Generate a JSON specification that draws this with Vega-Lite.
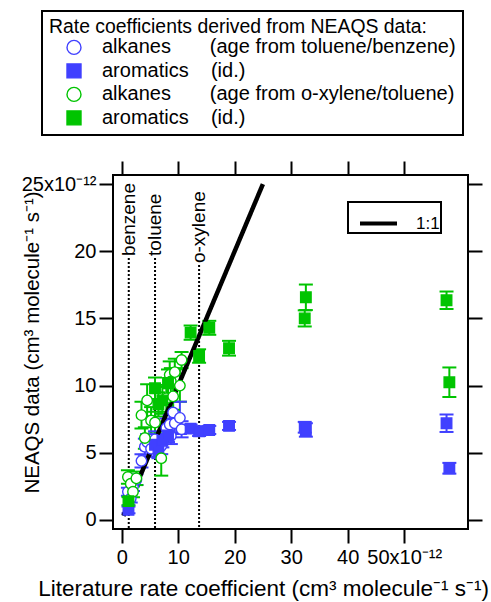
{
  "$schema": "https://vega.github.io/schema/vega-lite/v6.json",
  "width": 355,
  "height": 354,
  "autosize": {"type": "none"},
  "padding": {"left": 113, "top": 175, "right": 23, "bottom": 73},
  "background": "white",
  "config": {
    "font": "Liberation Sans",
    "view": {"stroke": "black", "strokeWidth": 2},
    "axis": {
      "domain": false, "grid": false,
      "tickColor": "black", "tickWidth": 2, "tickSize": 14,
      "labelColor": "black", "titleColor": "black",
      "labelFont": "Liberation Sans", "titleFont": "Liberation Sans",
      "titleFontWeight": "normal", "labelFontSize": 20, "titleFontSize": 21,
      "labelOverlap": false, "labelFlush": false
    },
    "legend": {"strokeWidth": 2}
  },
  "datasets": {
    "pts": [
      {"series": "tb_alk", "x": 1.1, "y": 2.1, "lo": 1.8, "hi": 2.4},
      {"series": "tb_alk", "x": 1.6, "y": 1.6, "lo": 1.3, "hi": 1.9},
      {"series": "tb_alk", "x": 2.0, "y": 2.5, "lo": 2.15, "hi": 2.85},
      {"series": "tb_alk", "x": 2.6, "y": 3.0, "lo": 2.6, "hi": 3.4},
      {"series": "tb_alk", "x": 3.5, "y": 4.4, "lo": 3.9, "hi": 4.9},
      {"series": "tb_alk", "x": 4.1, "y": 5.45, "lo": 4.85, "hi": 6.05},
      {"series": "tb_alk", "x": 4.5, "y": 5.8, "lo": 5.2, "hi": 6.4},
      {"series": "tb_alk", "x": 5.2, "y": 5.3, "lo": 4.7, "hi": 5.9},
      {"series": "tb_alk", "x": 5.9, "y": 6.0, "lo": 5.4, "hi": 6.6},
      {"series": "tb_alk", "x": 7.0, "y": 5.5, "lo": 4.9, "hi": 6.1},
      {"series": "tb_alk", "x": 7.9, "y": 6.85, "lo": 6.15, "hi": 7.55},
      {"series": "tb_alk", "x": 8.5, "y": 7.1, "lo": 6.4, "hi": 7.8},
      {"series": "tb_alk", "x": 8.7, "y": 6.25, "lo": 5.65, "hi": 6.85},
      {"series": "tb_alk", "x": 9.1, "y": 8.0, "lo": 7.2, "hi": 8.8},
      {"series": "tb_alk", "x": 9.4, "y": 7.2, "lo": 6.5, "hi": 7.9},
      {"series": "tb_alk", "x": 10.3, "y": 7.6, "lo": 6.4, "hi": 8.8},
      {"series": "tb_alk", "x": 10.6, "y": 6.75, "lo": 6.15, "hi": 7.35},
      {"series": "tb_aro", "x": 1.2, "y": 0.75, "lo": 0.5, "hi": 1.0},
      {"series": "tb_aro", "x": 5.9, "y": 5.6, "lo": 5.2, "hi": 6.0},
      {"series": "tb_aro", "x": 6.5, "y": 5.1, "lo": 4.6, "hi": 5.6},
      {"series": "tb_aro", "x": 7.2, "y": 5.9, "lo": 5.4, "hi": 6.4},
      {"series": "tb_aro", "x": 8.2, "y": 6.3, "lo": 5.8, "hi": 6.8},
      {"series": "tb_aro", "x": 12.2, "y": 6.8, "lo": 6.5, "hi": 7.1},
      {"series": "tb_aro", "x": 13.7, "y": 6.6, "lo": 6.25, "hi": 6.95},
      {"series": "tb_aro", "x": 15.5, "y": 6.7, "lo": 6.4, "hi": 7.0},
      {"series": "tb_aro", "x": 19.0, "y": 7.0, "lo": 6.7, "hi": 7.3},
      {"series": "tb_aro", "x": 32.4, "y": 6.9, "lo": 6.5, "hi": 7.3},
      {"series": "tb_aro", "x": 32.6, "y": 6.7, "lo": 6.2, "hi": 7.2},
      {"series": "tb_aro", "x": 57.5, "y": 7.2, "lo": 6.55, "hi": 7.85},
      {"series": "tb_aro", "x": 58.0, "y": 3.85, "lo": 3.45, "hi": 4.25},
      {"series": "xt_alk", "x": 1.1, "y": 3.2, "lo": 2.7, "hi": 3.7},
      {"series": "xt_alk", "x": 1.6, "y": 2.7, "lo": 2.2, "hi": 3.2},
      {"series": "xt_alk", "x": 2.0, "y": 2.1, "lo": 1.7, "hi": 2.5},
      {"series": "xt_alk", "x": 2.6, "y": 3.1, "lo": 2.6, "hi": 3.6},
      {"series": "xt_alk", "x": 3.5, "y": 7.8, "lo": 6.8, "hi": 8.8},
      {"series": "xt_alk", "x": 4.1, "y": 6.1, "lo": 5.3, "hi": 6.9},
      {"series": "xt_alk", "x": 4.5, "y": 8.9, "lo": 7.7, "hi": 10.1},
      {"series": "xt_alk", "x": 5.2, "y": 7.4, "lo": 6.4, "hi": 8.4},
      {"series": "xt_alk", "x": 5.9, "y": 7.25, "lo": 6.45, "hi": 8.05},
      {"series": "xt_alk", "x": 7.0, "y": 4.6, "lo": 3.3, "hi": 5.9},
      {"series": "xt_alk", "x": 7.9, "y": 9.05, "lo": 8.05, "hi": 10.05},
      {"series": "xt_alk", "x": 8.5, "y": 10.8, "lo": 9.8, "hi": 11.8},
      {"series": "xt_alk", "x": 8.7, "y": 10.3, "lo": 9.3, "hi": 11.3},
      {"series": "xt_alk", "x": 9.1, "y": 9.2, "lo": 8.2, "hi": 10.2},
      {"series": "xt_alk", "x": 9.4, "y": 11.0, "lo": 10.0, "hi": 12.0},
      {"series": "xt_alk", "x": 10.3, "y": 10.0, "lo": 8.8, "hi": 11.2},
      {"series": "xt_alk", "x": 10.6, "y": 11.9, "lo": 11.3, "hi": 12.5},
      {"series": "xt_aro", "x": 1.2, "y": 1.4, "lo": 1.1, "hi": 1.7},
      {"series": "xt_aro", "x": 5.9, "y": 9.8, "lo": 9.0, "hi": 10.6},
      {"series": "xt_aro", "x": 6.5, "y": 8.6, "lo": 7.7, "hi": 9.5},
      {"series": "xt_aro", "x": 7.2, "y": 8.9, "lo": 7.9, "hi": 9.9},
      {"series": "xt_aro", "x": 8.2, "y": 10.2, "lo": 9.2, "hi": 11.2},
      {"series": "xt_aro", "x": 12.2, "y": 13.94, "lo": 13.41, "hi": 14.47},
      {"series": "xt_aro", "x": 13.7, "y": 12.2, "lo": 11.7, "hi": 12.7},
      {"series": "xt_aro", "x": 15.5, "y": 14.3, "lo": 13.78, "hi": 14.82},
      {"series": "xt_aro", "x": 19.0, "y": 12.78, "lo": 12.23, "hi": 13.33},
      {"series": "xt_aro", "x": 32.4, "y": 15.0, "lo": 14.4, "hi": 15.6},
      {"series": "xt_aro", "x": 32.6, "y": 16.57, "lo": 15.62, "hi": 17.52},
      {"series": "xt_aro", "x": 57.5, "y": 16.35, "lo": 15.7, "hi": 17.0},
      {"series": "xt_aro", "x": 58.0, "y": 10.25, "lo": 9.15, "hi": 11.35}
    ],
    "refs": [
      {"name": "benzene", "k": 1.25, "top": 19.5},
      {"name": "toluene", "k": 5.9, "top": 19.5},
      {"name": "o-xylene", "k": 13.7, "top": 18.97}
    ],
    "oneone": [
      {"k": 0.3, "v": 0.3, "lbl": "1:1"},
      {"k": 25, "v": 25, "lbl": "1:1"}
    ]
  },
  "layer": [
    {
      "data": {"name": "refs"},
      "mark": {"type": "rule", "strokeDash": [2, 2], "strokeWidth": 2, "color": "black"},
      "encoding": {
        "x": {
          "field": "k", "type": "quantitative",
          "scale": {"domain": [-1.54, 61.3], "nice": false, "zero": false},
          "axis": {
            "orient": "bottom", "values": [0, 10, 20, 30, 40, 50],
            "labelExpr": "datum.value == 50 ? '50x10⁻¹²' : datum.label",
            "labelPadding": 4,
            "title": "Literature rate coefficient (cm³ molecule⁻¹ s⁻¹)",
            "titleFontSize": 22.5,
            "titleX": 150, "titleY": 66, "titleBaseline": "alphabetic", "titleAlign": "center"
          }
        },
        "y": {
          "field": "top", "type": "quantitative",
          "scale": {"domain": [-0.67, 25.67], "nice": false, "zero": false},
          "axis": {
            "orient": "left", "values": [0, 5, 10, 15, 20, 25],
            "labelExpr": "datum.value == 25 ? '25x10⁻¹²' : datum.label",
            "labelPadding": 3,
            "title": "NEAQS data (cm³ molecule⁻¹ s⁻¹)",
            "titleFontSize": 20.5,
            "titleX": -75, "titleY": 167, "titleAngle": 270, "titleBaseline": "alphabetic", "titleAlign": "center"
          }
        },
        "y2": {"datum": -0.67}
      }
    },
    {
      "data": {"name": "refs"},
      "mark": {"type": "text", "angle": 270, "align": "left", "baseline": "middle", "fontSize": 19, "color": "black", "dx": 2},
      "encoding": {
        "x": {"field": "k", "type": "quantitative", "axis": {"orient": "top", "values": [0, 10, 20, 30, 40, 50], "labels": false, "title": null}},
        "y": {"field": "top", "type": "quantitative", "axis": {"orient": "right", "values": [0, 5, 10, 15, 20, 25], "labels": false, "title": null}},
        "text": {"field": "name"}
      }
    },
    {
      "data": {"name": "pts"},
      "mark": {"type": "rule", "strokeWidth": 2},
      "encoding": {
        "x": {"field": "x", "type": "quantitative", "axis": null},
        "y": {"field": "lo", "type": "quantitative", "axis": null},
        "y2": {"field": "hi"},
        "color": {"field": "series", "type": "nominal", "legend": null,
          "scale": {"domain": ["xt_aro", "xt_alk", "tb_aro", "tb_alk"], "range": ["#00c400", "#00c400", "#4040ff", "#4040ff"]}}
      }
    },
    {
      "data": {"name": "pts"},
      "mark": {"type": "tick", "orient": "horizontal", "size": 14, "thickness": 2, "opacity": 1},
      "encoding": {
        "x": {"field": "x", "type": "quantitative", "axis": null},
        "y": {"field": "lo", "type": "quantitative", "axis": null},
        "color": {"field": "series", "type": "nominal", "legend": null}
      }
    },
    {
      "data": {"name": "pts"},
      "mark": {"type": "tick", "orient": "horizontal", "size": 14, "thickness": 2, "opacity": 1},
      "encoding": {
        "x": {"field": "x", "type": "quantitative", "axis": null},
        "y": {"field": "hi", "type": "quantitative", "axis": null},
        "color": {"field": "series", "type": "nominal", "legend": null}
      }
    },
    {
      "data": {"name": "oneone"},
      "mark": {"type": "line", "strokeWidth": 4.5, "color": "black", "strokeCap": "butt"},
      "encoding": {
        "x": {"field": "k", "type": "quantitative", "axis": null},
        "y": {"field": "v", "type": "quantitative", "axis": null},
        "strokeDash": {
          "field": "lbl", "type": "nominal",
          "scale": {"range": [[1, 0]]},
          "legend": {
            "orient": "top-right", "offset": 27, "title": null,
            "symbolType": "stroke", "symbolStrokeColor": "black", "symbolStrokeWidth": 4,
            "symbolSize": 1369, "symbolOffset": 9, "labelOffset": 17,
            "labelFontSize": 17, "labelColor": "black", "labelFont": "Liberation Sans",
            "strokeColor": "black", "padding": 1,
            "labelExpr": "'1:1'"
          }
        }
      }
    },
    {
      "data": {"name": "pts"},
      "mark": {"type": "point", "size": 110, "strokeWidth": 1.4, "opacity": 1, "fillOpacity": 1},
      "encoding": {
        "x": {"field": "x", "type": "quantitative", "axis": null},
        "y": {"field": "y", "type": "quantitative", "axis": null},
        "shape": {"field": "series", "type": "nominal", "title": "Rate coefficients derived from NEAQS data:",
          "scale": {"domain": ["tb_alk", "tb_aro", "xt_alk", "xt_aro"], "range": ["circle", "square", "circle", "square"]},
          "legend": {
            "orient": "none", "legendX": -71, "legendY": -164,
            "strokeColor": "black", "padding": 7,
            "titleFontSize": 19.4, "titleFontWeight": "normal", "titlePadding": 0, "titleColor": "black", "titleFont": "Liberation Sans", "titleLimit": 600,
            "labelFontSize": 20, "labelColor": "black", "labelFont": "Liberation Sans", "labelLimit": 600,
            "symbolSize": 196, "symbolStrokeWidth": 1.4, "symbolOffset": 15, "labelOffset": 18, "rowPadding": 3.5,
            "labelExpr": "datum.value == 'tb_alk' ? 'alkanes\u00a0\u00a0\u00a0\u00a0\u00a0\u00a0\u00a0(age from toluene/benzene)' : datum.value == 'tb_aro' ? 'aromatics\u00a0\u00a0\u00a0\u00a0(id.)' : datum.value == 'xt_alk' ? 'alkanes\u00a0\u00a0\u00a0\u00a0\u00a0\u00a0\u00a0(age from o-xylene/toluene)' : 'aromatics\u00a0\u00a0\u00a0\u00a0(id.)'"
          }
        },
        "fill": {"field": "series", "type": "nominal", "title": "Rate coefficients derived from NEAQS data:",
          "scale": {"domain": ["tb_alk", "tb_aro", "xt_alk", "xt_aro"], "range": ["white", "#4040ff", "white", "#00c400"]},
          "legend": {
            "orient": "none", "legendX": -71, "legendY": -164,
            "strokeColor": "black", "padding": 7,
            "titleFontSize": 19.4, "titleFontWeight": "normal", "titlePadding": 0, "titleColor": "black", "titleFont": "Liberation Sans", "titleLimit": 600,
            "labelFontSize": 20, "labelColor": "black", "labelFont": "Liberation Sans", "labelLimit": 600,
            "symbolSize": 196, "symbolStrokeWidth": 1.4, "symbolOffset": 15, "labelOffset": 18, "rowPadding": 3.5,
            "labelExpr": "datum.value == 'tb_alk' ? 'alkanes\u00a0\u00a0\u00a0\u00a0\u00a0\u00a0\u00a0(age from toluene/benzene)' : datum.value == 'tb_aro' ? 'aromatics\u00a0\u00a0\u00a0\u00a0(id.)' : datum.value == 'xt_alk' ? 'alkanes\u00a0\u00a0\u00a0\u00a0\u00a0\u00a0\u00a0(age from o-xylene/toluene)' : 'aromatics\u00a0\u00a0\u00a0\u00a0(id.)'"
          }
        },
        "stroke": {"field": "series", "type": "nominal", "title": "Rate coefficients derived from NEAQS data:",
          "scale": {"domain": ["tb_alk", "tb_aro", "xt_alk", "xt_aro"], "range": ["#4040ff", "#4040ff", "#00c400", "#00c400"]},
          "legend": {
            "orient": "none", "legendX": -71, "legendY": -164,
            "strokeColor": "black", "padding": 7,
            "titleFontSize": 19.4, "titleFontWeight": "normal", "titlePadding": 0, "titleColor": "black", "titleFont": "Liberation Sans", "titleLimit": 600,
            "labelFontSize": 20, "labelColor": "black", "labelFont": "Liberation Sans", "labelLimit": 600,
            "symbolSize": 196, "symbolStrokeWidth": 1.4, "symbolOffset": 15, "labelOffset": 18, "rowPadding": 3.5,
            "labelExpr": "datum.value == 'tb_alk' ? 'alkanes\u00a0\u00a0\u00a0\u00a0\u00a0\u00a0\u00a0(age from toluene/benzene)' : datum.value == 'tb_aro' ? 'aromatics\u00a0\u00a0\u00a0\u00a0(id.)' : datum.value == 'xt_alk' ? 'alkanes\u00a0\u00a0\u00a0\u00a0\u00a0\u00a0\u00a0(age from o-xylene/toluene)' : 'aromatics\u00a0\u00a0\u00a0\u00a0(id.)'"
          }
        }
      }
    }
  ],
  "resolve": {"axis": {"x": "independent", "y": "independent"}}
}
